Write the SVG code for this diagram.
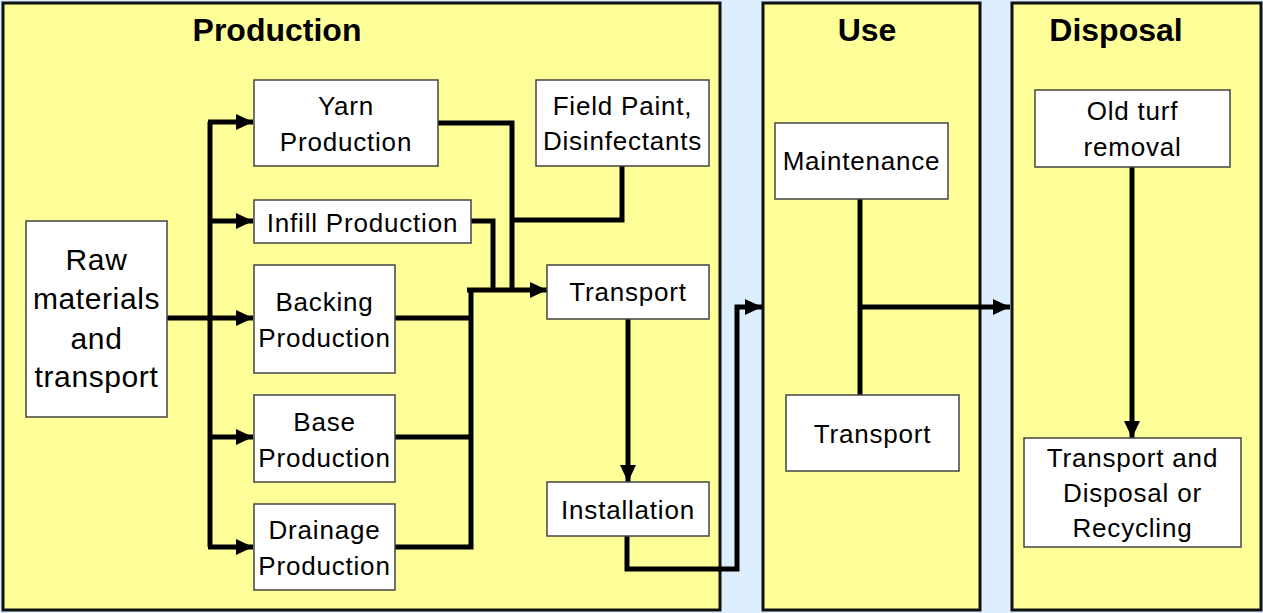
<svg xmlns="http://www.w3.org/2000/svg" width="1263" height="613" viewBox="0 0 1263 613">
  <defs>
    <marker id="arrow" markerUnits="userSpaceOnUse" markerWidth="18" markerHeight="18" viewBox="0 0 18 18" refX="17" refY="9" orient="auto">
      <path d="M0,1 L17,9 L0,17 Z" fill="#000"/>
    </marker>
    <style>
      .panel { fill: #ffff99; stroke: #111; stroke-width: 3; }
      .box { fill: #fff; stroke: #444; stroke-width: 1.5; }
      .title { font-family: "Liberation Sans", Arial, sans-serif; font-weight: bold; font-size: 32px; fill: #000; text-anchor: middle; }
      .lbl { font-family: "Liberation Sans", Arial, sans-serif; font-size: 26px; fill: #000; text-anchor: middle; letter-spacing: 0.8px; }
      .big { font-size: 30px; letter-spacing: 0.6px; }
      .wire { fill: none; stroke: #000; stroke-width: 5; stroke-linejoin: miter; stroke-linecap: butt; }
      .arr { marker-end: url(#arrow); }
    </style>
  </defs>

  <!-- background and stage panels -->
  <rect x="0" y="0" width="1263" height="613" fill="#ddeeff"/>
  <g id="stage-production">
    <rect class="panel" x="3" y="3" width="717" height="607"/>
    <text class="title" x="277" y="41">Production</text>
  </g>
  <g id="stage-use">
    <rect class="panel" x="763" y="3" width="217" height="607"/>
    <text class="title" x="867" y="41">Use</text>
  </g>
  <g id="stage-disposal">
    <rect class="panel" x="1012" y="3" width="249" height="607"/>
    <text class="title" x="1116" y="41">Disposal</text>
  </g>

  <!-- connectors -->
  <g id="connectors">
    <!-- raw materials feed bus -->
    <path class="wire" d="M167,318 H210"/>
    <path class="wire" d="M210,122 V547"/>
    <path class="wire arr" d="M208,122 H253"/>
    <path class="wire arr" d="M210,221 H253"/>
    <path class="wire arr" d="M210,318 H253"/>
    <path class="wire arr" d="M210,437 H253"/>
    <path class="wire arr" d="M208,547 H253"/>
    <!-- production outputs into transport -->
    <path class="wire" d="M438,123 H512 V290"/>
    <path class="wire" d="M471,221 H493 V290"/>
    <path class="wire" d="M622,166 V220 H512"/>
    <path class="wire" d="M395,318 H469"/>
    <path class="wire" d="M395,437 H469"/>
    <path class="wire" d="M395,547 H471 V288"/>
    <path class="wire arr" d="M467,290 H547"/>
    <!-- transport to installation -->
    <path class="wire arr" d="M628,319 V482"/>
    <!-- installation to use stage -->
    <path class="wire arr" d="M627,536 V569 H737 V307 H762"/>
    <!-- use stage to disposal stage -->
    <path class="wire" d="M860,199 V395"/>
    <path class="wire arr" d="M858,307 H1010"/>
    <!-- disposal chain -->
    <path class="wire arr" d="M1132,167 V438"/>
  </g>

  <!-- production nodes -->
  <g id="raw-materials">
    <rect class="box" x="26" y="221" width="141" height="196"/>
    <text class="lbl big" x="96.5" y="270">Raw</text>
    <text class="lbl big" x="96.5" y="309">materials</text>
    <text class="lbl big" x="96.5" y="349">and</text>
    <text class="lbl big" x="96.5" y="387">transport</text>
  </g>
  <g id="yarn-production">
    <rect class="box" x="254" y="80" width="184" height="86"/>
    <text class="lbl" x="346" y="115">Yarn</text>
    <text class="lbl" x="346" y="151">Production</text>
  </g>
  <g id="infill-production">
    <rect class="box" x="254" y="200" width="217" height="43"/>
    <text class="lbl" x="362.5" y="232">Infill Production</text>
  </g>
  <g id="backing-production">
    <rect class="box" x="254" y="265" width="141" height="108"/>
    <text class="lbl" x="324.5" y="311">Backing</text>
    <text class="lbl" x="324.5" y="347">Production</text>
  </g>
  <g id="base-production">
    <rect class="box" x="254" y="395" width="141" height="87"/>
    <text class="lbl" x="324.5" y="431">Base</text>
    <text class="lbl" x="324.5" y="467">Production</text>
  </g>
  <g id="drainage-production">
    <rect class="box" x="254" y="504" width="141" height="86"/>
    <text class="lbl" x="324.5" y="539">Drainage</text>
    <text class="lbl" x="324.5" y="575">Production</text>
  </g>
  <g id="field-paint">
    <rect class="box" x="536" y="80" width="173" height="86"/>
    <text class="lbl" x="622.5" y="115">Field Paint,</text>
    <text class="lbl" x="622.5" y="150">Disinfectants</text>
  </g>
  <g id="transport-production">
    <rect class="box" x="547" y="265" width="162" height="54"/>
    <text class="lbl" x="628" y="301">Transport</text>
  </g>
  <g id="installation">
    <rect class="box" x="547" y="482" width="162" height="54"/>
    <text class="lbl" x="628" y="519">Installation</text>
  </g>

  <!-- use nodes -->
  <g id="maintenance">
    <rect class="box" x="775" y="123" width="173" height="76"/>
    <text class="lbl" x="861.5" y="170">Maintenance</text>
  </g>
  <g id="transport-use">
    <rect class="box" x="786" y="395" width="173" height="76"/>
    <text class="lbl" x="872.5" y="443">Transport</text>
  </g>

  <!-- disposal nodes -->
  <g id="old-turf-removal">
    <rect class="box" x="1035" y="90" width="195" height="77"/>
    <text class="lbl" x="1132.5" y="120">Old turf</text>
    <text class="lbl" x="1132.5" y="156">removal</text>
  </g>
  <g id="transport-disposal">
    <rect class="box" x="1024" y="438" width="217" height="109"/>
    <text class="lbl" x="1132.5" y="467">Transport and</text>
    <text class="lbl" x="1132.5" y="502">Disposal or</text>
    <text class="lbl" x="1132.5" y="537">Recycling</text>
  </g>
</svg>
